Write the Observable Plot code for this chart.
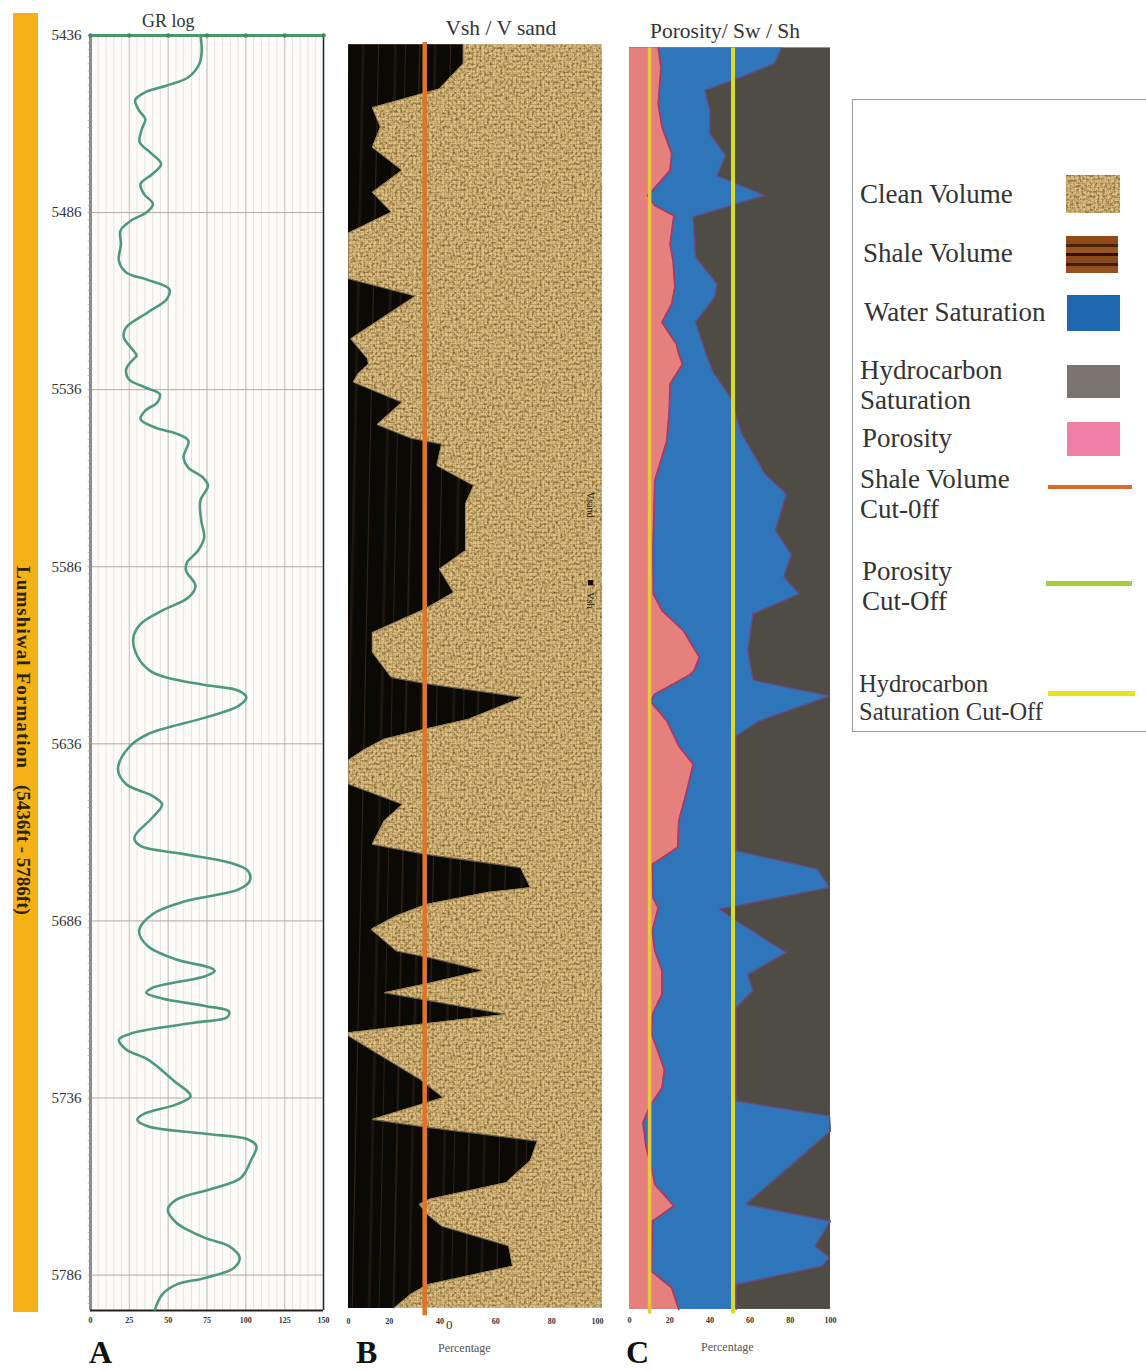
<!DOCTYPE html>
<html><head><meta charset="utf-8">
<script src="https://cdn.jsdelivr.net/npm/d3@7"></script>
<script src="https://cdn.jsdelivr.net/npm/@observablehq/plot@0.6"></script>
<style>
html,body{margin:0;padding:0;background:#fff}
#root{position:relative;width:1146px;height:1370px;overflow:hidden;font-family:"Liberation Serif",serif;color:#2c2c2c}
#root svg.p{position:absolute;top:0}
.t{position:absolute;white-space:nowrap;line-height:1}
.s{position:absolute}
</style></head><body>
<svg width="0" height="0" style="position:absolute"><defs>
<filter id="grain" x="0" y="0" width="100%" height="100%" color-interpolation-filters="sRGB">
<feTurbulence type="fractalNoise" baseFrequency="0.38" numOctaves="3" seed="5" stitchTiles="stitch"/>
<feColorMatrix values="0 0 0 0 0.38  0 0 0 0 0.26  0 0 0 0 0.07  1.8 0 0 0 -0.76"/>
</filter>
<pattern id="weave" patternUnits="userSpaceOnUse" width="4" height="4">
<rect x="0" width="1" height="4" fill="#7a5a20" fill-opacity=".18"/><rect y="0" width="4" height="1" fill="#7a5a20" fill-opacity=".16"/>
</pattern>
<pattern id="clean" patternUnits="userSpaceOnUse" width="200" height="200">
<rect width="200" height="200" fill="#dcc084"/>
<rect width="200" height="200" filter="url(#grain)"/>
<rect width="200" height="200" fill="url(#weave)"/>
</pattern>
<pattern id="shale" patternUnits="userSpaceOnUse" width="72" height="400" patternTransform="rotate(1.2)">
<rect width="72" height="400" fill="#0b0906"/>
<rect x="8" width="1.5" height="400" fill="#2e2216"/><rect x="23" width="2.5" height="400" fill="#1f170f"/>
<rect x="39" width="1" height="400" fill="#33261a"/><rect x="55" width="3" height="400" fill="#1d1610"/>
<rect x="66" width="1" height="400" fill="#2a1f14"/>
</pattern>
</defs></svg>
<div id="root"></div>
<script>
// Depth frame
const depthDomain = [5436, 5796];
const depthTicks = [5436, 5486, 5536, 5586, 5636, 5686, 5736, 5786];
const grTicks = [0, 25, 50, 75, 100, 125, 150];
const pctTicks = [0, 20, 40, 60, 80, 100];
const pctLabelAtB = [0, 16, 36, 58, 80, 98];
const trackB = [5438.6, 5795.4];
const trackC = [5439.5, 5795.7];
const vshCutoff = 30, phiCutoff = 10, shCutoff = 51.5;

// A: GR log
const grDepth = [5436.5,5440.2,5444.0,5447.8,5450.1,5452.0,5454.2,5457.2,5459.6,5462.4,5466.1,5469.0,5472.3,5475.1,5477.9,5480.7,5483.6,5485.9,5488.3,5491.1,5494.9,5499.6,5502.9,5505.0,5507.6,5510.4,5514.2,5518.4,5521.2,5524.1,5526.4,5527.4,5530.2,5533.0,5535.4,5537.2,5539.6,5541.9,5544.3,5546.7,5548.4,5550.4,5555.1,5558.0,5560.8,5563.1,5567.4,5573.0,5577.7,5581.5,5584.8,5587.1,5591.4,5594.7,5598.4,5602.2,5606.0,5611.2,5615.4,5617.1,5619.4,5621.0,5622.9,5625.3,5628.6,5633.3,5637.1,5643.2,5647.4,5650.7,5653.1,5656.8,5662.5,5664.8,5667.0,5669.5,5671.9,5674.7,5677.1,5680.4,5684.1,5688.8,5693.1,5696.9,5699.2,5700.1,5701.6,5704.9,5706.3,5707.9,5710.0,5711.6,5713.3,5714.7,5717.6,5719.5,5722.3,5725.1,5731.2,5735.5,5737.8,5740.6,5742.1,5744.0,5746.1,5747.7,5749.6,5753.8,5758.5,5761.4,5764.7,5767.5,5771.2,5775.5,5777.8,5781.1,5784.0,5786.8,5788.7,5791.5,5795.7];
const grValue = [71.0,71.6,70.1,63.0,49.2,35.3,28.8,31.3,35.3,33.1,31.6,38.4,45.5,39.9,32.2,34.4,40.2,36.2,26.0,19.3,19.6,18.3,23.0,36.8,50.7,49.2,36.8,23.0,21.4,26.0,29.7,27.6,23.0,24.5,35.3,44.5,43.0,35.3,32.2,41.5,55.3,63.0,59.9,63.0,72.3,75.6,70.7,71.3,73.2,69.2,62.1,61.5,67.6,63.0,46.1,32.2,27.6,30.1,38.4,47.6,73.8,95.4,100.3,95.4,73.8,36.8,24.5,17.7,23.0,39.9,46.1,39.9,28.2,32.2,58.4,89.2,101.5,102.5,95.4,61.5,39.9,31.3,36.8,55.3,76.9,80.0,73.8,39.9,35.9,46.1,73.8,89.2,87.7,67.6,27.6,18.3,23.0,36.8,53.8,64.5,55.3,33.8,30.1,36.8,73.8,101.5,106.8,103.1,96.9,80.0,55.3,49.8,55.3,73.8,89.2,96.0,92.3,73.8,55.3,46.1,41.5];

// B: shale volume (percent)
const vshDepth = [5438.6,5444.0,5448.3,5451.1,5456.4,5461.9,5467.6,5474.1,5480.3,5485.9,5491.8,5504.7,5509.6,5521.7,5527.3,5528.8,5531.6,5533.9,5539.6,5545.9,5549.7,5551.4,5557.5,5563.1,5568.3,5581.5,5586.7,5593.3,5598.0,5604.6,5610.2,5617.3,5619.2,5622.9,5629.1,5631.9,5634.7,5637.5,5640.6,5647.4,5653.1,5657.8,5664.4,5667.2,5671.0,5676.6,5678.0,5681.3,5684.6,5688.4,5694.5,5696.4,5700.1,5703.9,5706.3,5712.4,5715.0,5717.6,5718.5,5730.8,5735.9,5742.1,5744.4,5748.2,5753.8,5759.9,5764.6,5766.1,5768.9,5772.2,5777.8,5783.5,5788.7,5791.5,5795.4];
const vshValue = [45.2,45.2,39.5,35.8,9.4,12.6,9.4,21.1,9.4,16.9,0,0,26.4,0.9,7.5,7.9,3.8,1.9,21.1,11.3,24.5,36.7,34.8,49.3,46.1,46.1,35.8,41.4,30.1,9.4,9.4,16.9,32.0,68.7,47.1,30.1,14.1,6.6,0,0,21.3,14.1,9.4,30.1,67.8,71.6,54.6,31.1,18.8,8.9,18.8,32.0,53.1,30.1,14.1,62.1,30.5,0,0,28.2,37.3,9.4,32.0,74.4,71.6,62.1,32.0,27.9,31.1,36.7,63.1,64.6,31.1,24.5,17.9];

// C: porosity (percent)
const phiDepth = [5439.5,5445.0,5455.3,5461.9,5469.4,5474.1,5479.8,5481.2,5484.0,5486.9,5494.9,5499.6,5507.1,5511.8,5517.0,5523.1,5525.9,5528.8,5534.4,5542.0,5550.4,5561.7,5581.5,5593.7,5598.4,5604.1,5611.6,5615.4,5616.8,5622.0,5623.9,5629.5,5636.6,5641.8,5650.2,5657.8,5665.3,5670.0,5679.4,5682.3,5688.8,5694.5,5700.1,5706.7,5712.4,5718.0,5720.4,5728.0,5733.1,5738.3,5743.0,5750.0,5756.6,5760.4,5766.5,5770.8,5784.9,5789.6,5795.7];
const phiValue = [14.3,15.7,14.3,16.2,21.0,20.2,11.4,9.0,12.6,22.1,20.2,21.7,22.6,21.0,16.2,23.3,24.5,26.4,20.2,19.8,18.6,12.6,11.7,11.9,16.2,26.9,34.8,32.1,29.3,12.6,10.2,18.6,24.5,31.7,28.1,24.5,24.0,11.4,11.7,14.3,11.4,12.6,16.2,16.2,11.4,11.0,12.6,17.4,16.2,10.2,6.7,8.3,11.4,12.6,22.1,11.4,11.0,21.0,24.5];

// C: water saturation (percent)
const swDepth = [5439.5,5444.0,5447.8,5451.5,5457.2,5463.8,5469.9,5475.6,5481.2,5484.0,5487.3,5498.6,5506.2,5509.9,5517.0,5525.0,5530.6,5538.7,5548.1,5559.8,5565.5,5575.8,5582.4,5589.0,5593.7,5599.4,5609.7,5617.8,5618.2,5622.5,5629.5,5633.8,5666.2,5671.4,5676.6,5682.7,5686.0,5695.0,5701.1,5705.8,5710.5,5736.9,5741.1,5745.4,5766.1,5770.8,5777.8,5781.1,5783.5,5788.7,5795.7];
const swValue = [75.7,72.1,55.5,37.6,40.0,40.0,47.9,43.6,67.4,50.7,31.7,32.9,43.6,42.4,32.9,37.6,41.2,50.7,55.5,67.4,78.1,72.6,80.5,76.9,84.5,61.4,59.0,61.4,62.6,99.5,65.0,53.1,53.1,93.6,99.5,44.8,53.1,78.1,59.0,61.4,53.1,53.1,99.5,100,57.9,100,92.4,99.5,96.0,53.1,53.1];

const table = (ds, vs) => ds.map((d, i) => ({d, v: vs[i]}));
const gr = table(grDepth, grValue), vsh = table(vshDepth, vshValue), phi = table(phiDepth, phiValue), sw = table(swDepth, swValue);

const serif = '"Liberation Serif", serif';
const H = 1370, mT = 35, mB = 60;
const root = document.getElementById("root");
const yAxisOff = {domain: depthDomain, range: [mT, H - mB], axis: null};
const xPct = {domain: [0, 100], axis: null};
function place(svg, left) { svg.classList.add("p"); svg.style.left = left + "px"; root.appendChild(svg); }
const tiny = {fontSize: 8, fontWeight: "bold", fontFamily: serif, fill: "#333"};

// Panel A
place(Plot.plot({
  width: 340, height: H, marginLeft: 90, marginRight: 17, marginTop: mT, marginBottom: mB,
  style: {background: "transparent", overflow: "visible"},
  x: {domain: [0, 150]},
  y: {domain: depthDomain, range: [mT, H - mB]},
  marks: [
    Plot.rect([0], {x1: () => 0, x2: () => 150, y1: () => 5436, y2: () => 5796, fill: "#fefcfa"}),
    Plot.ruleX(d3.range(0, 150, 5), {stroke: "#e6e2e2", strokeWidth: 1}),
    Plot.ruleX(grTicks, {stroke: "#c4c4c0", strokeWidth: 1}),
    Plot.ruleY(depthTicks, {stroke: "#b3a8a8", strokeWidth: 1}),
    Plot.ruleX([0], {stroke: "#8b8b8b", strokeWidth: 3}),
    Plot.ruleY(d3.range(5436, 5796, 2), {x1: () => -1.5, x2: () => 1.5, stroke: "#9b9b9b", strokeWidth: 0.7}),
    Plot.ruleX([150], {stroke: "#222", strokeWidth: 1.5}),
    Plot.ruleY([5796], {stroke: "#222", strokeWidth: 2}),
    Plot.ruleY([5436], {stroke: "#4a9a68", strokeWidth: 3}),
    Plot.dot(grTicks, {x: d => d, y: () => 5436, r: 2.2, fill: "#3f8a5f"}),
    Plot.line(gr, {x: "v", y: "d", curve: "catmull-rom", stroke: "#4d9a78", strokeWidth: 2.6}),
    Plot.axisY(depthTicks, {anchor: "left", tickSize: 0, tickPadding: 9, fontSize: 15, fontFamily: serif, fill: "#333", label: null, tickFormat: d => String(d)}),
    Plot.axisX(grTicks, {anchor: "bottom", tickSize: 0, tickPadding: 7, label: null, ...tiny}),
    Plot.text(["GR log"], {x: () => 50, y: () => 5436, dy: -14, fontSize: 18, fontFamily: serif, fill: "#333"})
  ]
}), 0);

// Panel B
place(Plot.plot({
  width: 280, height: H, marginLeft: 8, marginRight: 18, marginTop: mT, marginBottom: mB,
  style: {background: "transparent", overflow: "visible"},
  x: xPct,
  y: yAxisOff,
  marks: [
    Plot.rect([0], {x1: () => 0, x2: () => 100, y1: () => trackB[0], y2: () => trackB[1], fill: "url(#clean)"}),
    Plot.areaX(vsh, {x1: () => 0, x2: "v", y: "d", fill: "url(#shale)"}),
    Plot.line(vsh, {x: "v", y: "d", stroke: "#8e7d5c", strokeWidth: 1, strokeOpacity: 0.8}),
    Plot.ruleX([vshCutoff], {y1: () => 5438, y2: () => 5797.5, stroke: "#e0752a", strokeWidth: 4.5}),
    Plot.text(["Vsand"], {x: () => 95.3, y: () => 5568.5, rotate: 90, fontSize: 10, fontFamily: serif, fill: "#222"}),
    Plot.dot([0], {x: () => 95.3, y: () => 5590.5, r: 3, symbol: "square", fill: "#1a0d0a"}),
    Plot.text(["Vsh"], {x: () => 95.3, y: () => 5595.5, rotate: 90, fontSize: 10, fontFamily: serif, fill: "#222"}),
    Plot.text(pctLabelAtB, {x: d => d, y: () => 5796, dy: 11, text: (d, i) => pctTicks[i], ...tiny}),
    Plot.text(["Vsh / V sand"], {x: () => 60, y: () => 5436, dy: -7, fontSize: 21.5, fontFamily: serif, fill: "#333"})
  ]
}), 340);

// Panel C
place(Plot.plot({
  width: 225, height: H, marginLeft: 9, marginRight: 15, marginTop: mT, marginBottom: mB,
  style: {background: "transparent", overflow: "visible"},
  x: {domain: [0, 100]},
  y: yAxisOff,
  marks: [
    Plot.rect([0], {x1: () => 0, x2: () => 100, y1: () => trackC[0], y2: () => trackC[1], fill: "#4f4b45"}),
    Plot.areaX(sw, {x1: () => 0, x2: "v", y: "d", fill: "#2f75b9"}),
    Plot.line(sw, {x: "v", y: "d", stroke: "#6a4a86", strokeWidth: 1.3}),
    Plot.areaX(phi, {x1: () => 0, x2: "v", y: "d", fill: "#e6807c"}),
    Plot.line(phi, {x: "v", y: "d", stroke: "#a93a66", strokeWidth: 1.8}),
    Plot.ruleX([phiCutoff], {y1: () => trackC[0], y2: () => 5797, stroke: "#e8c83c", strokeWidth: 3.5}),
    Plot.ruleX([shCutoff], {y1: () => trackC[0], y2: () => 5797, stroke: "#d8dc28", strokeWidth: 4}),
    Plot.axisX(pctTicks, {anchor: "bottom", tickSize: 0, tickPadding: 7, label: null, ...tiny}),
    Plot.text(["Porosity/ Sw / Sh"], {x: () => 47.5, y: () => 5436, dy: -4, fontSize: 21.5, fontFamily: serif, fill: "#333"})
  ]
}), 620);

// Page furniture
function el(cls, css, text) { const e = document.createElement("div"); e.className = cls; e.style.cssText = css; if (text) e.textContent = text; root.appendChild(e); return e; }
el("s", "left:13px;top:13px;width:25px;height:1299px;background:#f4b216");
el("t", "left:14px;top:566px;writing-mode:vertical-rl;font-size:19px;font-weight:bold;letter-spacing:1.1px;color:#2b2208", "Lumshiwal Formation");
el("t", "left:14px;top:785px;writing-mode:vertical-rl;font-size:19px;font-weight:bold;color:#2b2208", "(5436ft - 5786ft)");
const letters = [["A", 89, 1336], ["B", 356, 1336], ["C", 626, 1336]];
letters.forEach(([s, x, y]) => el("t", `left:${x}px;top:${y}px;font-size:32px;font-weight:bold;color:#111`, s));
const bottomNotes = [["Percentage", 438, 1342], ["Percentage", 701, 1341]];
bottomNotes.forEach(([s, x, y]) => el("t", `left:${x}px;top:${y}px;font-size:12px;color:#555`, s));
el("t", "left:446px;top:1318px;font-size:13px;color:#333", "0");

// Legend
el("s", "left:852px;top:99px;width:300px;height:633px;border:1px solid #9a9a9a;background:#fff;box-sizing:border-box");
const legendText = [
  ["Clean Volume", 860, 180.5, 27], ["Shale Volume", 863, 239.5, 27], ["Water Saturation", 864, 298.5, 27],
  ["Hydrocarbon", 860, 356.5, 27], ["Saturation", 860, 386.5, 27], ["Porosity", 862, 424.5, 27],
  ["Shale Volume", 860, 465.5, 27], ["Cut-0ff", 860, 495.5, 27], ["Porosity", 862, 557.5, 27], ["Cut-Off", 862, 587.5, 27],
  ["Hydrocarbon", 859, 672, 24.5], ["Saturation Cut-Off", 859, 700, 24.5]
];
legendText.forEach(([s, x, y, f]) => el("t", `left:${x}px;top:${y}px;font-size:${f}px;color:#333`, s));
const legendSwatches = [
  [1067, 365, 53, 33, "#7a7370"], [1067, 295, 53, 36, "#1f68b0"], [1067, 422, 53, 34, "#ef7fa6"],
  [1048, 485, 84, 4, "#d96b2b"], [1046, 581, 86, 5, "#a9cc3a"], [1048, 691, 87, 5, "#e9e51c"]
];
legendSwatches.forEach(([x, y, w, h, c]) => el("s", `left:${x}px;top:${y}px;width:${w}px;height:${h}px;background:${c}`));
el("s", "left:1066px;top:236px;width:52px;height:37px;background:linear-gradient(#8f4a1a 0 22%,#4a2208 22% 30%,#9a5420 30% 46%,#2c1406 46% 54%,#8a4a1c 54% 74%,#3a1c08 74% 80%,#94501e 80%)");
const sw1 = el("s", "left:1066px;top:175px;width:54px;height:38px");
sw1.innerHTML = '<svg width="54" height="38"><rect width="54" height="38" fill="url(#clean)"/></svg>';
</script>
</body></html>
